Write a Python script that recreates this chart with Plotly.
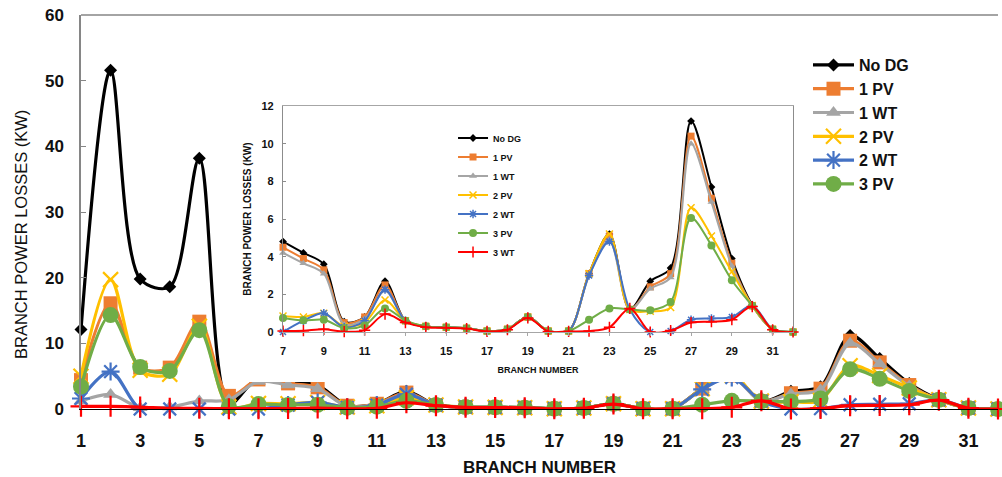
import plotly.graph_objects as go

# ---------------- data ----------------
branches = list(range(1, 33))
series_names = ["No DG", "1 PV", "1 WT", "2 PV", "2 WT", "3 PV", "3 WT"]

no_dg = [12.1, 51.6, 19.8, 18.6, 38.2, 0.8, 4.8, 4.2, 3.6, 0.55, 0.8, 2.7,
         0.6, 0.3, 0.25, 0.2, 0.05, 0.15, 0.8, 0.05, 0.05,
         3.1, 5.2, 1.2, 2.7, 3.4, 11.2, 7.7, 3.9, 1.45, 0.15, 0.0]
pv1 = [4.4, 16.1, 6.3, 6.3, 13.3, 2.0, 4.5, 3.9, 3.3, 0.5, 0.8, 2.5,
       0.6, 0.3, 0.25, 0.2, 0.05, 0.15, 0.8, 0.05, 0.05,
       3.1, 5.1, 1.2, 2.4, 3.1, 10.4, 7.1, 3.65, 1.4, 0.15, 0.0]
wt1 = [1.2, 2.2, 0.2, 0.3, 1.2, 1.4, 4.2, 3.65, 3.1, 0.4, 0.7, 2.2,
       0.6, 0.3, 0.25, 0.2, 0.05, 0.15, 0.8, 0.05, 0.05,
       3.0, 4.9, 1.2, 2.3, 2.9, 10.0, 6.9, 3.5, 1.4, 0.15, 0.0]
pv2 = [5.0, 19.7, 5.9, 5.3, 12.6, 0.3, 0.85, 0.8, 1.0, 0.3, 0.5, 1.7,
       0.6, 0.3, 0.25, 0.2, 0.05, 0.15, 0.8, 0.05, 0.05,
       3.1, 5.2, 1.2, 1.1, 1.3, 6.6, 5.1, 3.2, 1.4, 0.15, 0.0]
wt2 = [1.6, 5.7, 0.0, 0.0, 0.0, 0.0, 0.0, 0.6, 1.0, 0.25, 0.6, 2.25,
       0.6, 0.3, 0.25, 0.2, 0.05, 0.15, 0.8, 0.05, 0.05,
       3.0, 4.8, 1.2, 0.0, 0.05, 0.65, 0.72, 0.8, 1.4, 0.15, 0.0]
pv3 = [3.4, 14.3, 6.4, 5.8, 12.0, 0.4, 0.75, 0.62, 0.65, 0.2, 0.35, 1.25,
       0.6, 0.3, 0.25, 0.2, 0.05, 0.15, 0.8, 0.05, 0.05,
       0.65, 1.25, 1.2, 1.15, 1.6, 6.05, 4.6, 2.75, 1.4, 0.15, 0.0]
wt3 = [0.4, 0.4, 0.3, 0.1, 0.1, 0.05, 0.05, 0.07, 0.14, 0.02, 0.1, 0.95,
       0.5, 0.25, 0.22, 0.18, 0.03, 0.12, 0.75, 0.03, 0.03,
       0.05, 0.25, 1.25, 0.0, 0.08, 0.5, 0.55, 0.65, 1.35, 0.12, 0.0]

all_series = [no_dg, pv1, wt1, pv2, wt2, pv3, wt3]

main_xticks = list(range(1, 33, 2))
inset_xticks = list(range(7, 32, 2))
main_yticks = [0, 10, 20, 30, 40, 50, 60]
inset_yticks = [0, 2, 4, 6, 8, 10, 12]

# ---------------- styles ----------------
colors = ["#000000", "#ED7D31", "#A5A5A5", "#FFC000", "#4472C4", "#70AD47", "#FF0000"]
symbols = ["diamond", "square", "triangle-up", "x-thin", "asterisk", "circle", "cross-thin"]
line_only = {"x-thin", "asterisk", "cross-thin"}
main_sizes = [10, 14, 13, 15, 15, 16, 15]
inset_sizes = [6, 7, 7, 7, 7, 8, 8]

BASE = "Liberation Sans, Arial, sans-serif"

fig = go.Figure()

# main chart
for name, vals, c, sym, sz in zip(series_names, all_series, colors, symbols, main_sizes):
    lo = sym in line_only
    fig.add_trace(go.Scatter(
        x=branches, y=vals, name=name, mode="lines+markers",
        line=dict(color=c, width=3.2, shape="spline", smoothing=0.9),
        marker=dict(symbol=sym, size=sz, color=c,
                    line=dict(color=c, width=2.2 if lo else 0)),
        cliponaxis=False, showlegend=(name != "3 WT"), legend="legend",
        xaxis="x", yaxis="y"))

# white cover behind the inset (empty subplot)
fig.add_trace(go.Scatter(x=[], y=[], xaxis="x2", yaxis="y2",
                         showlegend=False, hoverinfo="skip"))

# inset chart (branches 7..32)
for name, vals, c, sym, sz in zip(series_names, all_series, colors, symbols, inset_sizes):
    lo = sym in line_only
    fig.add_trace(go.Scatter(
        x=branches[6:], y=vals[6:], name=name, mode="lines+markers",
        line=dict(color=c, width=2, shape="spline", smoothing=0.9),
        marker=dict(symbol=sym, size=sz, color=c,
                    line=dict(color=c, width=1.5 if lo else 0)),
        cliponaxis=False, showlegend=True, legend="legend2",
        xaxis="x3", yaxis="y3"))

fig.update_layout(
    width=1002, height=477,
    margin=dict(l=81, r=4, t=15, b=68),
    paper_bgcolor="white", plot_bgcolor="white",
    font=dict(family=BASE, color="#111111"),
    xaxis=dict(domain=[0, 1], range=[1, 32], tickvals=main_xticks,
               showgrid=False, zeroline=False, showline=True,
               linecolor="#000000", linewidth=1, ticks="",
               tickfont=dict(family=BASE, size=18, weight="bold"),
               ticklabelstandoff=15,
               title=dict(text="BRANCH NUMBER",
                          font=dict(family=BASE, size=17, weight="bold"),
                          standoff=11)),
    yaxis=dict(domain=[0, 1], range=[0, 60], tickvals=main_yticks,
               showgrid=False, zeroline=False, showline=True,
               linecolor="#868686", linewidth=1.5, ticks="inside",
               ticklen=5, tickcolor="#868686",
               tickfont=dict(family=BASE, size=17, weight="bold"),
               ticklabelstandoff=12),
    xaxis2=dict(domain=[0.171, 0.784], range=[0, 1], anchor="y2", visible=False),
    yaxis2=dict(domain=[0.0685, 0.797], range=[0, 1], anchor="x2", visible=False),
    xaxis3=dict(domain=[0.2203, 0.7765], range=[7, 32], anchor="y3",
                tickvals=inset_xticks, showgrid=False, zeroline=False,
                showline=True, mirror=True, linecolor="#A6A6A6", linewidth=1.2,
                ticks="outside", ticklen=3, tickcolor="#A6A6A6",
                tickfont=dict(family=BASE, size=11, weight="bold"),
                ticklabelstandoff=6,
                title=dict(text="BRANCH NUMBER",
                           font=dict(family=BASE, size=9, weight="bold"),
                           standoff=10)),
    yaxis3=dict(domain=[0.1954, 0.769], range=[0, 12], anchor="x3",
                tickvals=inset_yticks, showgrid=False, zeroline=False,
                showline=True, mirror=True, linecolor="#8C8C8C", linewidth=1.2,
                ticks="inside", ticklen=3, tickcolor="#8C8C8C",
                tickfont=dict(family=BASE, size=11, weight="bold"),
                ticklabelstandoff=6,
                title=dict(text="BRANCH POWER LOSSES (KW)",
                           font=dict(family=BASE, size=10, weight="bold"),
                           standoff=7)),
    legend=dict(x=0.7928, y=0.9162, xanchor="left", yanchor="top",
                bgcolor="rgba(0,0,0,0)", borderwidth=0, tracegroupgap=0,
                itemwidth=41,
                font=dict(family=BASE, size=16, weight="bold", color="#111111")),
    legend2=dict(x=0.4057, y=0.7246, xanchor="left", yanchor="top",
                 bgcolor="rgba(0,0,0,0)", borderwidth=0, tracegroupgap=0,
                 itemwidth=30,
                 font=dict(family=BASE, size=9, weight="bold", color="#111111")),
    shapes=[dict(type="line", xref="paper", yref="paper", x0=0, x1=1, y0=1, y1=1,
                 line=dict(color="#868686", width=1.5))],
    annotations=[dict(text="BRANCH POWER LOSSES (KW)", textangle=-90,
                      xref="paper", yref="paper", x=-0.0654, y=0.4416,
                      xanchor="center", yanchor="middle", showarrow=False,
                      font=dict(family=BASE, size=16.5, color="#111111"))],
)

fig.write_html("out.html")
